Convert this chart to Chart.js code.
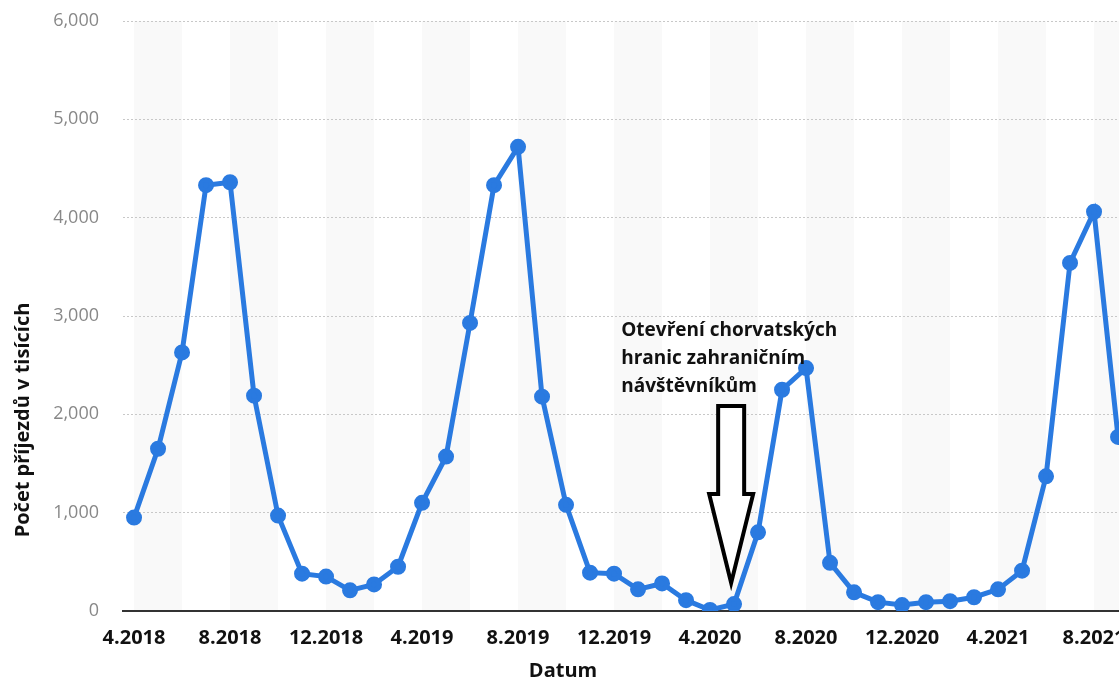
<!DOCTYPE html>
<html>
<head>
<meta charset="utf-8">
<script src="https://cdn.jsdelivr.net/npm/chart.js@4"></script>
<style>
  html, body { margin: 0; padding: 0; background: #fff; overflow: hidden; }
  #wrap { width: 1119px; height: 682px; position: relative; }
</style>
</head>
<body>
<div id="wrap"><canvas id="arrivalsChart"></canvas></div>
<script>
// months 4.2018 .. 9.2021
let monthLabels = [
    '4.2018', '5.2018', '6.2018', '7.2018', '8.2018', '9.2018', '10.2018', '11.2018', '12.2018',
    '1.2019', '2.2019', '3.2019', '4.2019', '5.2019', '6.2019', '7.2019', '8.2019', '9.2019', '10.2019', '11.2019', '12.2019',
    '1.2020', '2.2020', '3.2020', '4.2020', '5.2020', '6.2020', '7.2020', '8.2020', '9.2020', '10.2020', '11.2020', '12.2020',
    '1.2021', '2.2021', '3.2021', '4.2021', '5.2021', '6.2021', '7.2021', '8.2021', '9.2021'
]
// arrivals in thousands
let arrivals = [
    950, 1650, 2630, 4330, 4360, 2190, 970, 380, 350,
    210, 270, 450, 1100, 1570, 2930, 4330, 4720, 2180, 1080, 390, 380,
    220, 280, 110, 10, 70, 800, 2250, 2470, 490, 190, 90, 60,
    90, 100, 140, 220, 410, 1370, 3540, 4060, 1770
]
let yTicks = [0, 1000, 2000, 3000, 4000, 5000, 6000]
let noteLines = ['Otevření chorvatských', 'hranic zahraničním', 'návštěvníkům']
let yTitle = 'Počet příjezdů v tisících'
let xTitle = 'Datum'

let points = arrivals.map((v, i) => ({ x: i, y: v }))

// alternating light bands, two months wide
const bands = {
    id: 'bands',
    beforeDraw(chart) {
        const { ctx, chartArea, scales } = chart
        ctx.save()
        ctx.beginPath()
        ctx.rect(chartArea.left, chartArea.top, chartArea.right - chartArea.left, chartArea.bottom - chartArea.top)
        ctx.clip()
        ctx.fillStyle = '#f9f9f9'
        for (let i = 0; i < monthLabels.length; i += 4) {
            let x0 = scales.x.getPixelForValue(i)
            let x1 = scales.x.getPixelForValue(i + 2)
            ctx.fillRect(x0, chartArea.top, x1 - x0, chartArea.bottom - chartArea.top)
        }
        ctx.restore()
    }
}

// axis titles, the note and the arrow
const extras = {
    id: 'extras',
    afterDraw(chart) {
        const { ctx, scales } = chart
        const x = scales.x, y = scales.y
        ctx.save()
        ctx.fillStyle = '#111'
        ctx.font = 'bold 20px "Open Sans"'
        ctx.textAlign = 'center'
        ctx.textBaseline = 'middle'
        ctx.fillText(xTitle, 563, 671)
        ctx.translate(23, 420)
        ctx.rotate(-Math.PI / 2)
        ctx.fillText(yTitle, 0, 0)
        ctx.restore()

        ctx.save()
        ctx.fillStyle = '#111'
        ctx.font = 'bold 19px "Open Sans"'
        ctx.textAlign = 'left'
        ctx.textBaseline = 'middle'
        let tx = x.getPixelForValue(20.3)
        let ty = y.getPixelForValue(2850)
        noteLines.forEach((t, k) => ctx.fillText(t, tx, ty + k * 28))

        let tipX = x.getPixelForValue(24.88)
        let tipY = y.getPixelForValue(285)
        let topY = y.getPixelForValue(2085)
        let baseY = y.getPixelForValue(1190)
        ctx.beginPath()
        ctx.moveTo(tipX - 13, topY)
        ctx.lineTo(tipX + 13, topY)
        ctx.lineTo(tipX + 13, baseY)
        ctx.lineTo(tipX + 22, baseY)
        ctx.lineTo(tipX, tipY)
        ctx.lineTo(tipX - 22, baseY)
        ctx.lineTo(tipX - 13, baseY)
        ctx.closePath()
        ctx.fillStyle = '#fff'
        ctx.fill()
        ctx.lineWidth = 4
        ctx.lineJoin = 'miter'
        ctx.strokeStyle = '#000'
        ctx.stroke()
        ctx.restore()
    }
}

const ctx = document.getElementById('arrivalsChart').getContext('2d')
let chart = new Chart(ctx, {
    type: 'line',
    data: {
        datasets: [{
            label: 'Příjezdy',
            data: points,
            borderColor: '#2a7ae0',
            backgroundColor: '#2a7ae0',
            borderWidth: 5,
            pointRadius: 5.5,
            pointHoverRadius: 5.5,
            tension: 0,
            fill: false,
        }]
    },
    options: {
        responsive: true,
        maintainAspectRatio: false,
        animation: false,
        layout: { autoPadding: false, padding: { top: 21, right: 0, bottom: 0, left: 0 } },
        plugins: {
            legend: { display: false },
            tooltip: { enabled: false },
        },
        scales: {
            x: {
                type: 'linear',
                min: -0.46,
                max: 41.04,
                afterFit(scale) {
                    scale.height = 71
                    scale.paddingLeft = 0
                    scale.paddingRight = 0
                },
                afterBuildTicks(scale) {
                    scale.ticks = monthLabels.map((l, i) => ({ value: i })).filter(t => t.value % 4 === 0)
                },
                ticks: {
                    autoSkip: false,
                    maxRotation: 0,
                    padding: 15,
                    color: '#111',
                    font: { family: 'Open Sans', size: 20, weight: 'bold' },
                    callback: (v) => monthLabels[v],
                },
                grid: { display: false, drawTicks: false },
                border: { display: true, color: '#333', width: 2 },
            },
            y: {
                min: 0,
                max: 6000,
                afterFit(scale) {
                    scale.width = 123
                    scale.paddingTop = 0
                    scale.paddingBottom = 0
                },
                afterBuildTicks(scale) {
                    scale.ticks = yTicks.map(v => ({ value: v }))
                },
                ticks: {
                    padding: 24,
                    color: '#888',
                    font: { family: 'Open Sans', size: 18 },
                    callback: (v) => v.toLocaleString('en-US'),
                },
                grid: {
                    color: (c) => c.tick && c.tick.value === 0 ? 'rgba(0,0,0,0)' : '#c8c8c8',
                    drawTicks: false,
                    lineWidth: 1,
                },
                border: { display: false, dash: [2, 2] },
            }
        }
    },
    plugins: [bands, extras]
})
</script>
</body>
</html>
